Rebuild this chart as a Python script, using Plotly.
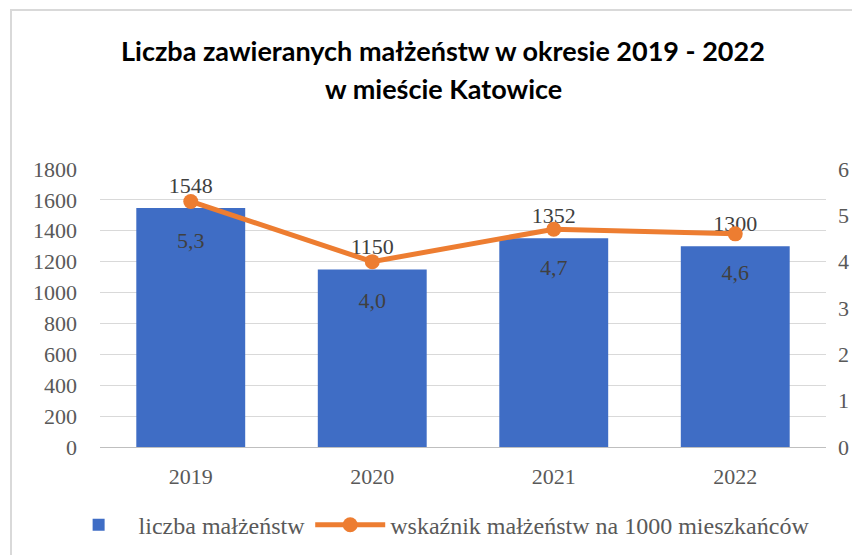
import plotly.graph_objects as go

years = ["2019", "2020", "2021", "2022"]
marriages = [1548, 1150, 1352, 1300]
rate = [5.3, 4.0, 4.7, 4.6]
rate_labels = ["5,3", "4,0", "4,7", "4,6"]
count_labels = [str(v) for v in marriages]
title_lines = ["Liczba zawieranych małżeństw w okresie 2019 - 2022", "w mieście Katowice"]

SERIF = "Liberation Serif"
BLUE = "#3F6DC5"
ORANGE = "#ED7D31"

fig = go.Figure()
fig.add_trace(go.Bar(
    x=years, y=marriages, name="liczba małżeństw",
    marker=dict(color=BLUE, line=dict(width=0)),
    yaxis="y",
))
fig.add_trace(go.Scatter(
    x=years, y=rate, name="wskaźnik małżeństw na 1000 mieszkańców",
    mode="lines+markers", yaxis="y2",
    line=dict(color=ORANGE, width=5),
    marker=dict(color=ORANGE, size=15),
))
# bar value labels (outside end)
fig.add_trace(go.Scatter(
    x=years, y=marriages, mode="markers+text", yaxis="y",
    text=count_labels, textposition="top center",
    marker=dict(size=14, color="rgba(0,0,0,0)"),
    textfont=dict(family=SERIF, size=22, color="#404040"),
    showlegend=False, hoverinfo="skip",
))
# line value labels (below)
fig.add_trace(go.Scatter(
    x=years, y=rate, mode="markers+text", yaxis="y2",
    text=rate_labels, textposition="bottom center",
    marker=dict(size=46, color="rgba(0,0,0,0)"),
    textfont=dict(family=SERIF, size=22, color="#404040"),
    showlegend=False, hoverinfo="skip",
))

fig.update_layout(
    width=852, height=547,
    margin=dict(l=92, r=34, t=161, b=108, autoexpand=False),
    paper_bgcolor="white", plot_bgcolor="white",
    bargap=0.4,
    font=dict(family=SERIF, color="#595959"),
    xaxis=dict(
        showgrid=False, showline=True, linecolor="#BFBFBF", linewidth=1,
        tickfont=dict(family=SERIF, size=22, color="#595959"),
        ticklabelstandoff=10, automargin=False,
    ),
    yaxis=dict(
        range=[0, 1800], dtick=200, showgrid=True, gridcolor="#D9D9D9",
        gridwidth=1, zeroline=False, showline=False,
        tickfont=dict(family=SERIF, size=22, color="#595959"),
        ticklabelstandoff=22, automargin=False,
    ),
    yaxis2=dict(
        range=[0, 6], dtick=1, overlaying="y", side="right",
        showgrid=False, zeroline=False, showline=False,
        tickfont=dict(family=SERIF, size=22, color="#595959"),
        ticklabelstandoff=11, automargin=False,
    ),
    legend=dict(
        orientation="h", x=-0.057, xanchor="left", y=-0.2, yanchor="top",
        font=dict(family=SERIF, size=24, color="#595959"),
        itemwidth=70, traceorder="normal",
    ),
    annotations=[
        dict(text=title_lines[0], xref="paper", yref="paper",
             x=0.4725, y=1.428, xanchor="center", yanchor="middle", showarrow=False,
             font=dict(family="Lato", size=27, color="#000000", weight="bold")),
        dict(text=title_lines[1], xref="paper", yref="paper",
             x=0.4725, y=1.291, xanchor="center", yanchor="middle", showarrow=False,
             font=dict(family="Lato", size=27, color="#000000", weight="bold")),
    ],
    shapes=[dict(
        type="rect", xref="paper", yref="paper",
        x0=-0.1226, x1=1.3, y0=-0.6, y1=1.572,
        line=dict(color="#D9D9D9", width=2), fillcolor="rgba(0,0,0,0)",
        layer="below",
    )],
)

fig.write_html("out.html")
